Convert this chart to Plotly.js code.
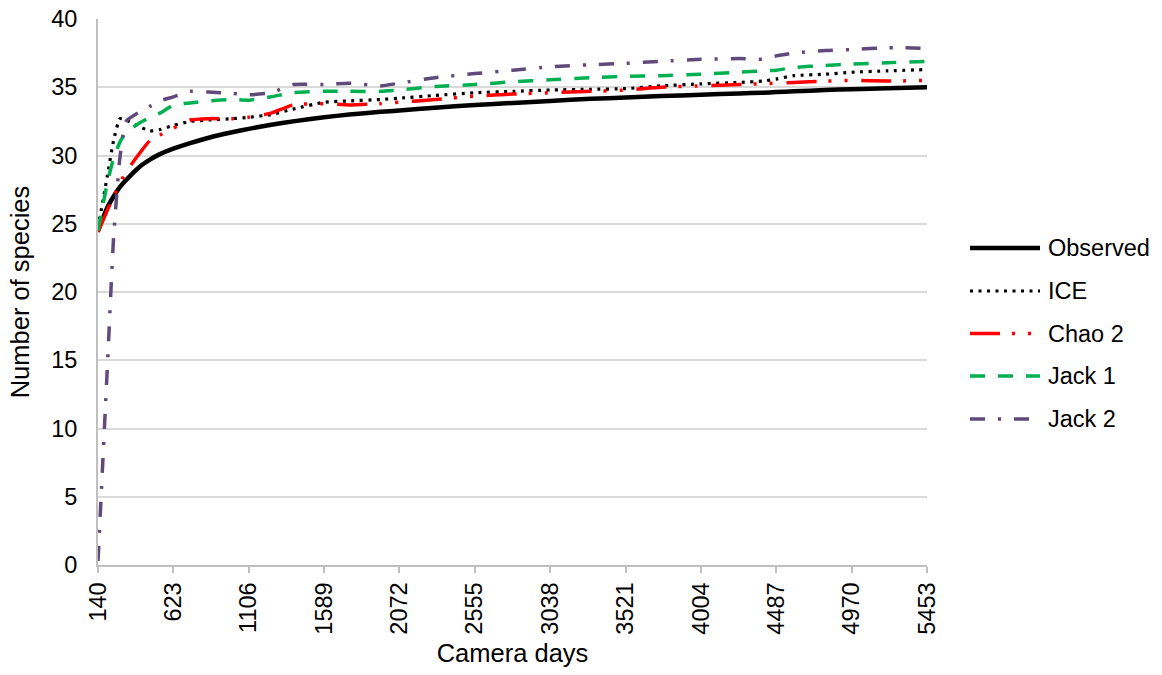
<!DOCTYPE html>
<html>
<head>
<meta charset="utf-8">
<script src="https://cdn.plot.ly/plotly-3.0.1.min.js"></script>
<style>
  html, body { margin: 0; padding: 0; background: #fff; }
  #chart { width: 1162px; height: 675px; }
</style>
</head>
<body>
<div id="chart"></div>
<script>
// Camera days (x positions of the samples)
const cameraDays = [140, 200, 240, 281, 320, 409, 473, 537, 623, 730, 850, 1000, 1106, 1250, 1390, 1589, 1750, 1950, 2072, 2300, 2555, 2800, 3038, 3300, 3521, 3750, 4004, 4250, 4400, 4487, 4600, 4800, 4970, 5200, 5453];

// Series values (number of species)
const observed = [24.5, 26.2, 27.0, 27.7, 28.2, 29.2, 29.7, 30.1, 30.5, 30.9, 31.3, 31.7, 31.95, 32.25, 32.5, 32.8, 33.0, 33.2, 33.3, 33.5, 33.7, 33.85, 34.0, 34.15, 34.25, 34.35, 34.45, 34.55, 34.6, 34.65, 34.7, 34.8, 34.85, 34.92, 35.0];
const ice = [24.7, 28.5, 31.1, 32.7, 32.6, 32.1, 31.8, 31.9, 32.2, 32.5, 32.6, 32.7, 32.8, 33.0, 33.4, 33.9, 34.0, 34.1, 34.2, 34.4, 34.6, 34.7, 34.8, 34.85, 34.9, 35.1, 35.25, 35.35, 35.45, 35.6, 35.85, 35.95, 36.1, 36.2, 36.3];
const chao2 = [24.4, 26.0, 27.0, 28.0, 28.8, 30.2, 31.1, 31.5, 32.0, 32.6, 32.7, 32.7, 32.8, 33.1, 33.7, 33.8, 33.7, 33.8, 33.9, 34.1, 34.35, 34.5, 34.6, 34.7, 34.8, 35.0, 35.1, 35.2, 35.25, 35.3, 35.35, 35.45, 35.5, 35.45, 35.5];
const jack1 = [24.5, 28.0, 29.8, 31.0, 31.7, 32.4, 32.8, 33.1, 33.7, 33.85, 34.0, 34.1, 34.05, 34.3, 34.6, 34.7, 34.7, 34.7, 34.8, 35.05, 35.2, 35.4, 35.55, 35.7, 35.8, 35.85, 35.95, 36.1, 36.2, 36.25, 36.45, 36.6, 36.7, 36.8, 36.9];
const jack2 = [0.3, 14.5, 24.0, 29.9, 32.5, 33.2, 33.6, 34.0, 34.3, 34.7, 34.65, 34.55, 34.45, 34.6, 35.2, 35.2, 35.3, 35.1, 35.3, 35.7, 36.0, 36.25, 36.5, 36.65, 36.75, 36.9, 37.05, 37.1, 37.05, 37.3, 37.5, 37.7, 37.75, 37.9, 37.85];

// Tick labels
const xTicks = [140, 623, 1106, 1589, 2072, 2555, 3038, 3521, 4004, 4487, 4970, 5453];
const yTicks = [0, 5, 10, 15, 20, 25, 30, 35, 40];

const seriesNames = ['Observed', 'ICE', 'Chao 2', 'Jack 1', 'Jack 2'];

const FONT = '"Liberation Sans", Arial, sans-serif';

const styles = [
  { color: '#000000', width: 4.5, dash: 'solid' },
  { color: '#000000', width: 3.2, dash: '3px,5.5px' },
  { color: '#ff0000', width: 3.5, dash: '30px,12px,3px,13px,3px,14px' },
  { color: '#00b050', width: 3.5, dash: '15px,13px' },
  { color: '#604a7b', width: 3.5, dash: '15px,13px,3px,13px' }
];
const seriesValues = [observed, ice, chao2, jack1, jack2];

const data = seriesValues.map((vals, i) => ({
  type: 'scatter', mode: 'lines', name: seriesNames[i], x: cameraDays, y: vals,
  showlegend: false,
  line: { color: styles[i].color, width: styles[i].width, dash: styles[i].dash, shape: 'spline', smoothing: 0.5 }
}));

// Plot area geometry (pixels) for placing the legend in paper coordinates
const M = { l: 98, r: 235, t: 19, b: 110 };
const W = 1162, H = 675;
const pw = W - M.l - M.r, ph = H - M.t - M.b;
const px2x = p => (p - M.l) / pw;
const py2y = p => (H - M.b - p) / ph;

const legendRowsY = [248, 291, 333.5, 376, 419];
const shapes = [];
const annotations = [];
seriesNames.forEach((nm, i) => {
  const yy = py2y(legendRowsY[i]);
  shapes.push({
    type: 'line', xref: 'paper', yref: 'paper',
    x0: px2x(970), x1: px2x(1040), y0: yy, y1: yy,
    line: { color: styles[i].color, width: styles[i].width, dash: styles[i].dash }
  });
  annotations.push({
    xref: 'paper', yref: 'paper', x: px2x(1046), y: yy,
    xanchor: 'left', yanchor: 'middle', showarrow: false,
    text: nm, font: { family: FONT, size: 23.5, color: '#000000' }
  });
});

const layout = {
  width: W, height: H,
  paper_bgcolor: '#ffffff', plot_bgcolor: '#ffffff',
  margin: M,
  font: { family: FONT, size: 23.5, color: '#000000' },
  showlegend: false,
  shapes: shapes,
  annotations: annotations,
  xaxis: {
    type: 'linear', range: [140, 5453],
    tickmode: 'array', tickvals: xTicks, ticktext: xTicks.map(String),
    tickangle: -90, ticks: 'outside', ticklen: 6, tickwidth: 2, tickcolor: '#bfbfbf',
    showline: true, linecolor: '#bfbfbf', linewidth: 2,
    showgrid: false, zeroline: false,
    tickfont: { family: FONT, size: 23.5, color: '#000000' },
    title: { text: 'Camera days', font: { family: FONT, size: 25.5, color: '#000000' }, standoff: 10 }
  },
  yaxis: {
    range: [0, 40], tickmode: 'array', tickvals: yTicks,
    ticks: '', showline: true, linecolor: '#bfbfbf', linewidth: 2,
    showgrid: true, gridcolor: '#d9d9d9', gridwidth: 2, zeroline: false,
    tickfont: { family: FONT, size: 23.5, color: '#000000' },
    ticklabelstandoff: 14,
    title: { text: 'Number of species', font: { family: FONT, size: 25.5, color: '#000000' }, standoff: 14 }
  }
};

Plotly.newPlot('chart', data, layout, { staticPlot: true, displayModeBar: false });
</script>
</body>
</html>
